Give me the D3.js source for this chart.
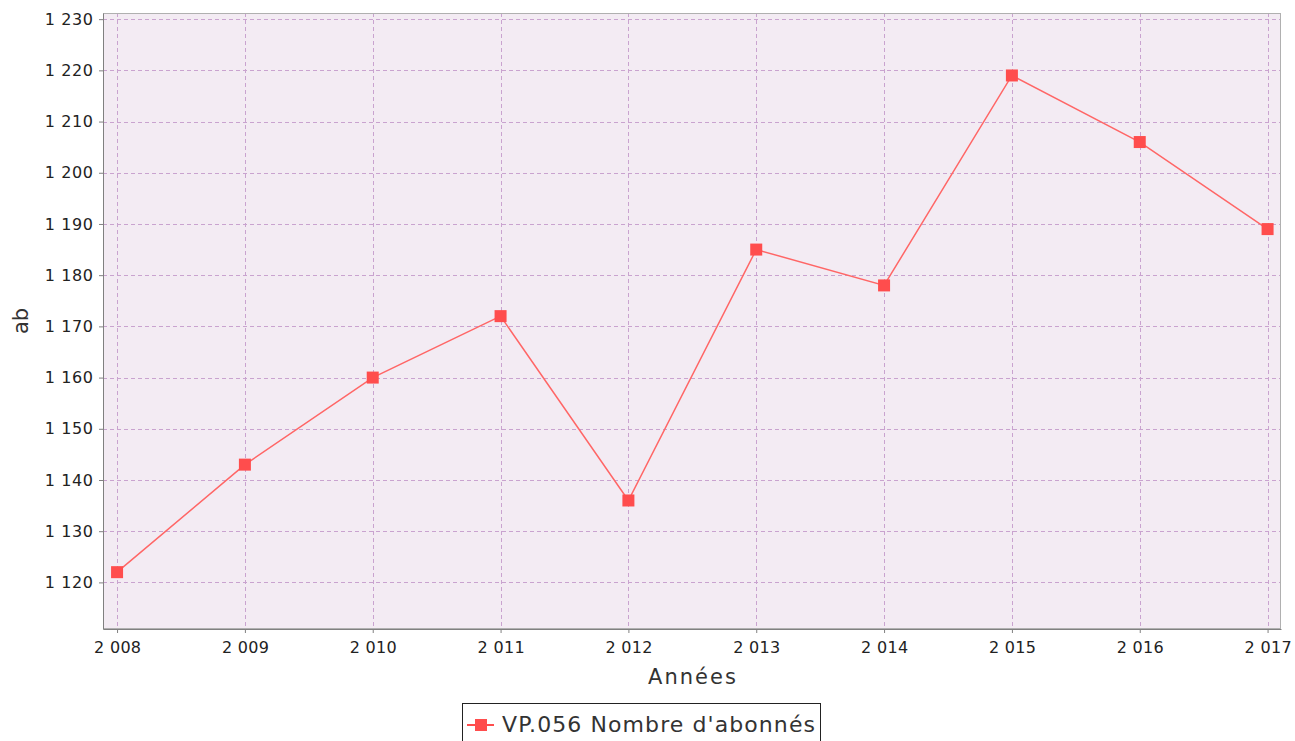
<!DOCTYPE html>
<html><head><meta charset="utf-8">
<script src="https://cdn.jsdelivr.net/npm/d3@7"></script>
<style>body{margin:0;background:#fff;} svg{display:block;font-family:"DejaVu Sans",sans-serif;}</style>
</head><body>
<svg id="c" width="1295" height="741"></svg>
<script>
const years = [2008, 2009, 2010, 2011, 2012, 2013, 2014, 2015, 2016, 2017];
const subscribers = [1122, 1143, 1160, 1172, 1136, 1185, 1178, 1219, 1206, 1189];
const yTicks = [1120, 1130, 1140, 1150, 1160, 1170, 1180, 1190, 1200, 1210, 1220, 1230];
const seriesName = "VP.056 Nombre d'abonnés";
const xTitle = "Années", yTitle = "ab";

const svg = d3.select("#c");
const L = 103, R = 1281, T = 13, B = 629;
const fmt = v => d3.format(",")(v).replace(/,/g, " ");
const x = d3.scaleLinear().domain([2007.89, 2017.105]).range([L, R]);
const y = d3.scaleLinear().domain([1110.9, 1231.2]).range([B, T]);

svg.append("rect").attr("x", L).attr("y", T).attr("width", R - L).attr("height", B - T).attr("fill", "#f3ebf3");

const grid = svg.append("g").attr("stroke", "#c9a3cf").attr("stroke-width", 1).attr("stroke-dasharray", "4,3");
grid.selectAll("line.v").data(years).join("line").attr("class","v")
  .attr("x1", d => Math.round(x(d)) + 0.5).attr("x2", d => Math.round(x(d)) + 0.5).attr("y1", T).attr("y2", B);
grid.selectAll("line.h").data(yTicks).join("line").attr("class","h")
  .attr("y1", d => Math.round(y(d)) + 0.5).attr("y2", d => Math.round(y(d)) + 0.5).attr("x1", L).attr("x2", R);

svg.append("rect").attr("x", L + 0.5).attr("y", T + 0.5).attr("width", R - L - 1).attr("height", B - T - 1)
  .attr("fill", "none").attr("stroke", "#b0b0b0");

const xAxis = d3.axisBottom(x).tickValues(years).tickFormat(fmt).tickSize(4).tickSizeOuter(0);
const gx = svg.append("g").attr("transform", `translate(0,${B})`).call(xAxis);
gx.select(".domain").attr("stroke", "#808080");
gx.selectAll(".tick line").attr("stroke", "#808080");
gx.selectAll("text").attr("fill", "#222").attr("font-size", 16).attr("font-family", "DejaVu Sans")
  .attr("dy", "1.05em").attr("textLength", 47).attr("lengthAdjust", "spacing");

const yAxis = d3.axisLeft(y).tickValues(yTicks).tickFormat(fmt).tickSize(4).tickSizeOuter(0);
const gy = svg.append("g").attr("transform", `translate(${L},0)`).call(yAxis);
gy.select(".domain").attr("stroke", "#808080");
gy.selectAll(".tick line").attr("stroke", "#808080");
gy.selectAll("text").attr("fill", "#222").attr("font-size", 16).attr("font-family", "DejaVu Sans")
  .attr("dx", "-0.2em").attr("textLength", 48).attr("lengthAdjust", "spacing");

svg.append("text").attr("x", 648).attr("y", 684)
  .attr("font-size", 21).attr("fill", "#333").attr("textLength", 88).attr("lengthAdjust", "spacing").text(xTitle);
svg.append("text").attr("transform", "translate(28,321) rotate(-90)").attr("text-anchor", "middle")
  .attr("font-size", 21).attr("fill", "#333").text(yTitle);

const pts = years.map((d, i) => [d, subscribers[i]]);
svg.append("path").datum(pts).attr("fill", "none").attr("stroke", "#ff6666").attr("stroke-width", 1.5)
  .attr("d", d3.line().x(d => x(d[0])).y(d => y(d[1])));
svg.selectAll("rect.m").data(pts).join("rect").attr("class", "m")
  .attr("x", d => x(d[0]) - 6).attr("y", d => y(d[1]) - 6).attr("width", 12).attr("height", 12).attr("fill", "#ff4d4d");

// legend
const lg = svg.append("g");
lg.append("rect").attr("x", 462.5).attr("y", 703.5).attr("width", 358).attr("height", 45).attr("fill", "#fff").attr("stroke", "#222");
lg.append("line").attr("x1", 467).attr("x2", 494).attr("y1", 725).attr("y2", 725).attr("stroke", "#ff4d4d").attr("stroke-width", 2);
lg.append("rect").attr("x", 475).attr("y", 719).attr("width", 12).attr("height", 12).attr("fill", "#ff4d4d");
lg.append("text").attr("x", 502).attr("y", 732).attr("font-size", 22).attr("fill", "#333")
  .attr("textLength", 313).attr("lengthAdjust", "spacing").text(seriesName);
</script>
</body></html>
